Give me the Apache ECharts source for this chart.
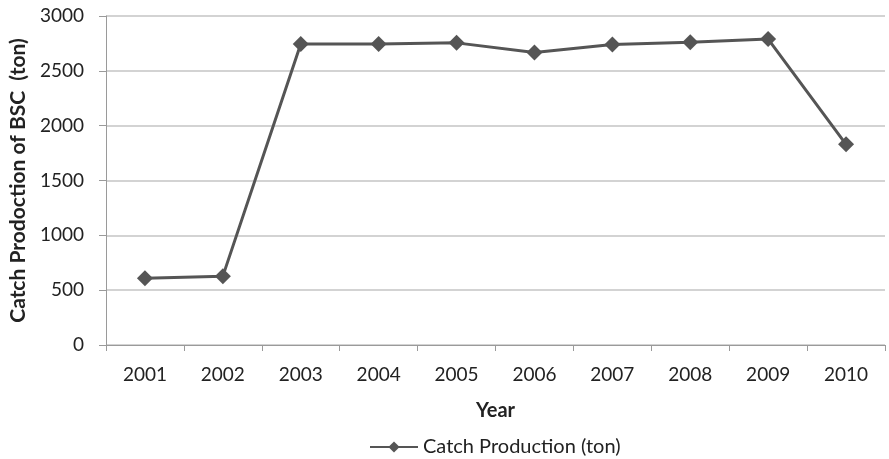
<!DOCTYPE html>
<html><head><meta charset="utf-8">
<script src="https://cdn.jsdelivr.net/npm/echarts@6/dist/echarts.min.js"></script>
<style>html,body{margin:0;padding:0;background:#fff}#c{width:889px;height:459px}</style>
</head><body><div id="c"></div>
<script>
const years = ['2001','2002','2003','2004','2005','2006','2007','2008','2009','2010'];
const catchProduction = [608, 628, 2745, 2745, 2755, 2668, 2740, 2760, 2790, 1830];
const yTicks = [0, 500, 1000, 1500, 2000, 2500, 3000];
const seriesName = 'Catch Production (ton)';

const font = 'Lato, "Open Sans", sans-serif';
const chart = echarts.init(document.getElementById('c'));
chart.setOption({
  animation: false,
  backgroundColor: '#fff',
  grid: {left: 106, right: 4, top: 16, bottom: 114},
  legend: {
    top: 432, left: 364,
    data: [seriesName],
    itemWidth: 48, itemHeight: 14, itemGap: 4,
    textStyle: {fontFamily: font, fontSize: 20, color: '#222'}
  },
  xAxis: {
    type: 'category', data: years, boundaryGap: true,
    name: 'Year', nameLocation: 'middle', nameGap: 56,
    nameTextStyle: {fontFamily: font, fontSize: 20, fontWeight: 'bold', color: '#222'},
    axisLine: {lineStyle: {color: '#9a9a9a', width: 1}},
    axisTick: {show: true, length: 6, lineStyle: {color: '#9a9a9a'}},
    axisLabel: {fontFamily: font, fontSize: 19, color: '#222', margin: 20}
  },
  yAxis: {
    type: 'value', min: yTicks[0], max: yTicks[yTicks.length-1], interval: 500,
    name: 'Catch Prodoction of BSC  (ton)', nameLocation: 'middle', nameGap: 72,
    nameTextStyle: {fontFamily: font, fontSize: 21, fontWeight: 'bold', color: '#222'},
    axisLine: {show: true, lineStyle: {color: '#9a9a9a'}},
    axisTick: {show: true, length: 7, lineStyle: {color: '#9a9a9a'}},
    axisLabel: {fontFamily: font, fontSize: 19, color: '#222', margin: 22,
      formatter: v => String(v)},
    splitLine: {lineStyle: {color: '#c4c4c4', width: 1.5}}
  },
  series: [{
    name: seriesName, type: 'line', data: catchProduction,
    symbol: 'diamond', symbolSize: 16,
    lineStyle: {color: '#555555', width: 3},
    itemStyle: {color: '#555555'}
  }]
});
</script></body></html>
